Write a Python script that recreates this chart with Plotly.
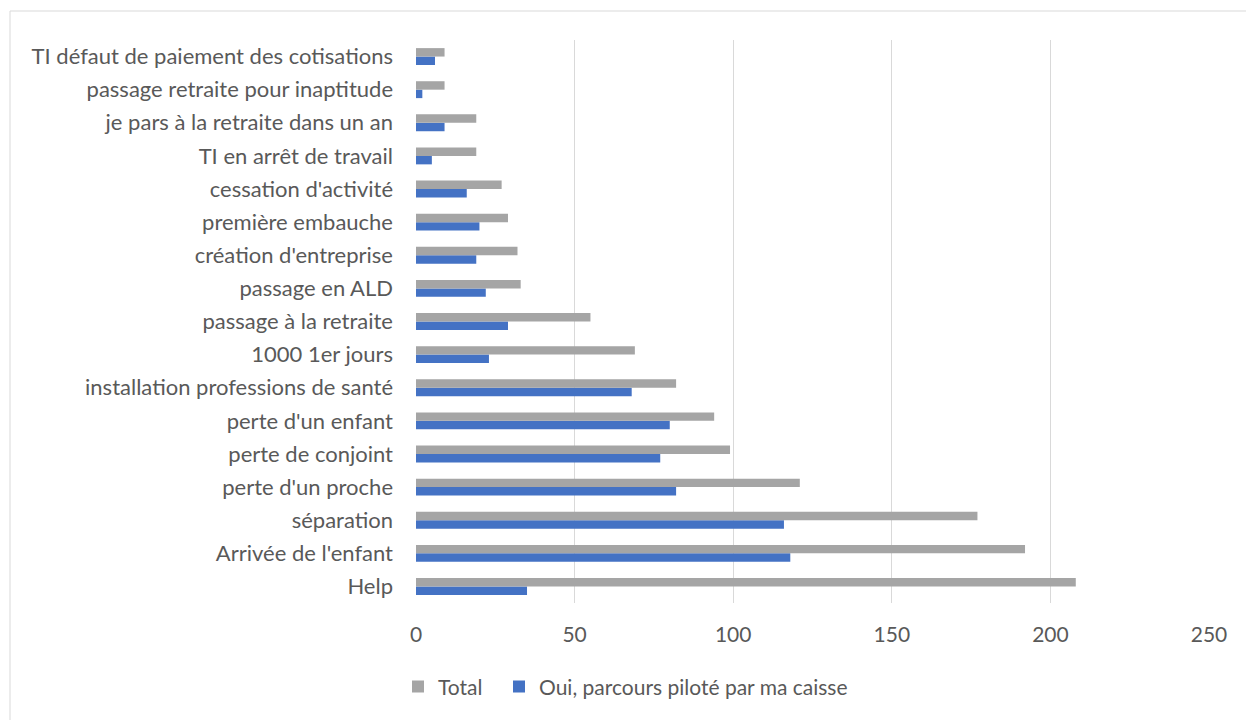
import plotly.graph_objects as go

categories = [
    "Help", "Arrivée de l'enfant", "séparation", "perte d'un proche",
    "perte de conjoint", "perte d'un enfant", "installation professions de santé",
    "1000 1er jours", "passage à la retraite", "passage en ALD",
    "création d'entreprise", "première embauche", "cessation d'activité",
    "TI en arrêt de travail", "je pars à la retraite dans un an",
    "passage retraite pour inaptitude", "TI défaut de paiement des cotisations",
]
total = [208, 192, 177, 121, 99, 94, 82, 69, 55, 33, 32, 29, 27, 19, 19, 9, 9]
oui = [35, 118, 116, 82, 77, 80, 68, 23, 29, 22, 19, 20, 16, 5, 9, 2, 6]
x_ticks = [0, 50, 100, 150, 200, 250]

FONT = "Lato"
TXT = "#595959"
FS = 22

fig = go.Figure()
fig.add_trace(go.Bar(y=categories, x=oui, orientation="h", name="Oui, parcours piloté par ma caisse",
                     marker=dict(color="#4472C4", line=dict(width=0)), legend="legend2"))
fig.add_trace(go.Bar(y=categories, x=total, orientation="h", name="Total",
                     marker=dict(color="#A5A5A5", line=dict(width=0)), legend="legend"))

leg_common = dict(orientation="h", xanchor="left", y=-0.149, yanchor="middle",
                  font=dict(family=FONT, size=21, color=TXT), itemwidth=30,
                  bgcolor="rgba(0,0,0,0)")

fig.update_layout(
    width=1246, height=720,
    margin=dict(l=416, r=37, t=40, b=117),
    paper_bgcolor="white", plot_bgcolor="white",
    barmode="group", bargap=0.49, bargroupgap=0,
    font=dict(family=FONT, size=FS, color=TXT),
    showlegend=True,
    legend=dict(x=(398 - 416) / 793, **leg_common),
    legend2=dict(x=(499 - 416) / 793, **leg_common),
    xaxis=dict(range=[0, 250], tickvals=x_ticks, showgrid=True, gridcolor="#D9D9D9",
               gridwidth=1.3, zeroline=False, showline=False, ticks="",
               ticklabelstandoff=17, tickfont=dict(family=FONT, size=21, color=TXT)),
    yaxis=dict(type="category", categoryorder="array", categoryarray=categories,
               showgrid=False, zeroline=False, showline=False, ticks="",
               ticklabelstandoff=22, tickfont=dict(family=FONT, size=FS, color=TXT)),
    shapes=[dict(type="rect", xref="paper", yref="paper",
                 x0=(10 - 416) / 793, x1=1.2, y0=-0.4, y1=(603 - 11) / 563,
                 line=dict(color="#D9D9D9", width=1), fillcolor="rgba(0,0,0,0)", layer="below")],
)

fig.write_html("out.html")
